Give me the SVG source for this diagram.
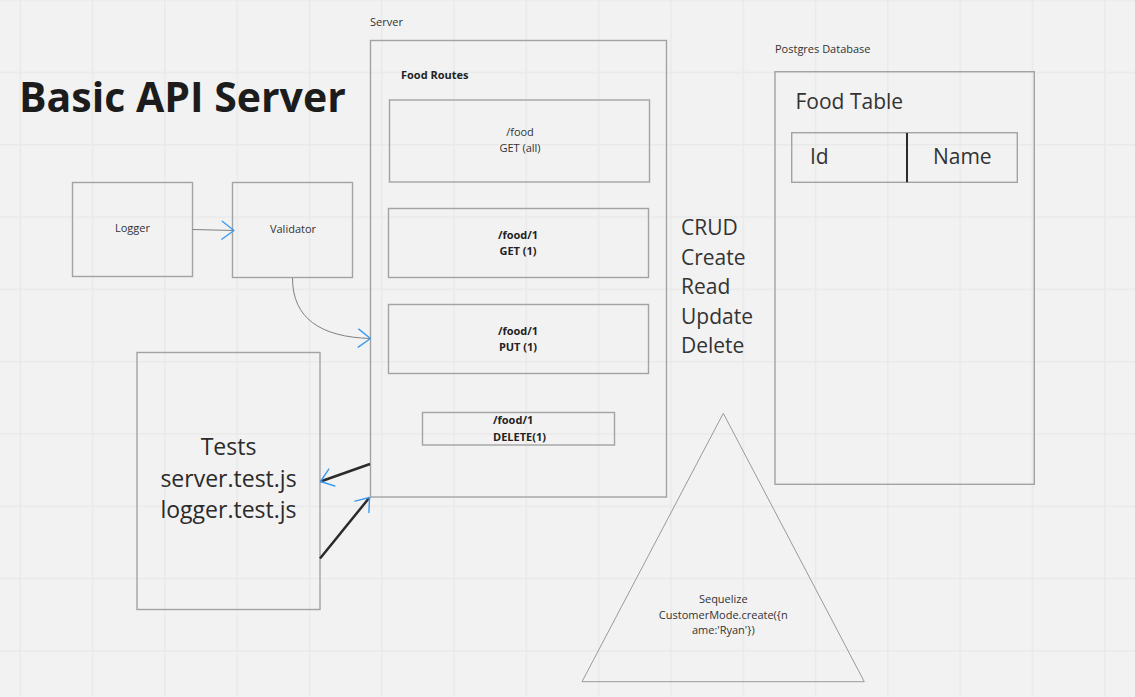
<svg xmlns="http://www.w3.org/2000/svg" width="1135" height="697" viewBox="0 0 1135 697">
<defs>
<pattern id="grid" patternUnits="userSpaceOnUse" x="19.5" y="-0.6" width="72.3" height="72.3">
<rect x="0" y="0" width="72.3" height="1.5" fill="#e9e9e9"/>
<rect x="0" y="0" width="1.5" height="72.3" fill="#e9e9e9"/>
</pattern>
<marker id="chev" viewBox="0 0 20 20" refX="18" refY="10" markerWidth="20" markerHeight="20" markerUnits="userSpaceOnUse" orient="auto">
<path d="M6,1 L18,10 L6,19" fill="none" stroke="#3a9bf0" stroke-width="1.4" stroke-linecap="round" stroke-linejoin="round"/>
</marker>
</defs>
<style>
.box{fill:none;stroke:#a3a3a3;stroke-width:1.4}
.sm{font-family:"Open Sans","Liberation Sans",sans-serif;font-size:11px;fill:#333}
.smb{font-family:"Open Sans","Liberation Sans",sans-serif;font-size:11px;font-weight:bold;fill:#222}
.big{font-family:"Open Sans","Liberation Sans",sans-serif;font-size:21px;fill:#333}
.mid{text-anchor:middle}
.thin{fill:none;stroke:#808080;stroke-width:1}
.thick{fill:none;stroke:#2b2b2b;stroke-width:2.5}
</style>
<rect width="1135" height="697" fill="#f2f2f2"/>
<rect width="1135" height="697" fill="url(#grid)"/>

<text id="title" x="19" y="112" font-family="Open Sans, Liberation Sans, sans-serif" font-size="41" font-weight="bold" fill="#1c1c1c">Basic API Server</text>

<g id="server">
<text class="sm" x="370" y="26">Server</text>
<rect class="box" x="370.5" y="40.5" width="296" height="456.5"/>
<text class="smb" x="401" y="79">Food Routes</text>
</g>
<g id="route-get-all">
<rect class="box" x="389.5" y="100" width="260" height="82"/>
<text class="sm mid" x="520" y="136">/food</text>
<text class="sm mid" x="520" y="152">GET (all)</text>
</g>
<g id="route-get-one">
<rect class="box" x="388.5" y="208.5" width="260" height="69"/>
<text class="smb mid" x="518" y="239">/food/1</text>
<text class="smb mid" x="518" y="255">GET (1)</text>
</g>
<g id="route-put">
<rect class="box" x="388.5" y="304.5" width="260" height="69"/>
<text class="smb mid" x="518" y="335">/food/1</text>
<text class="smb mid" x="518" y="351">PUT (1)</text>
</g>
<g id="route-delete">
<rect class="box" x="422.5" y="412.5" width="192" height="32.5"/>
<text class="smb" x="493" y="424">/food/1</text>
<text class="smb" x="493" y="441">DELETE(1)</text>
</g>

<g id="logger">
<rect class="box" x="72.5" y="182.5" width="120" height="94"/>
<text class="sm mid" x="132.5" y="232">Logger</text>
</g>
<g id="validator">
<rect class="box" x="232.5" y="182.5" width="120" height="95"/>
<text class="sm mid" x="293" y="233">Validator</text>
</g>

<g id="tests">
<rect class="box" x="137" y="352.5" width="183" height="257"/>
<text font-family="Open Sans, Liberation Sans, sans-serif" font-size="23" fill="#2b2b2b" text-anchor="middle" x="228.5" y="455">Tests</text>
<text font-family="Open Sans, Liberation Sans, sans-serif" font-size="23" fill="#2b2b2b" text-anchor="middle" x="228.5" y="487">server.test.js</text>
<text font-family="Open Sans, Liberation Sans, sans-serif" font-size="23" fill="#2b2b2b" text-anchor="middle" x="228.5" y="518">logger.test.js</text>
</g>

<g id="crud">
<text class="big" x="681" y="235">CRUD</text>
<text class="big" x="681" y="264.5">Create</text>
<text class="big" x="681" y="294">Read</text>
<text class="big" x="681" y="323.5">Update</text>
<text class="big" x="681" y="353">Delete</text>
</g>

<g id="sequelize">
<polygon points="723.3,413.3 864.3,681.7 582,681.7" fill="none" stroke="#9a9a9a" stroke-width="1"/>
<text class="sm mid" x="723.3" y="603">Sequelize</text>
<text class="sm mid" x="723.3" y="619">CustomerMode.create({n</text>
<text class="sm mid" x="723.3" y="634">ame:'Ryan'})</text>
</g>

<g id="postgres">
<text class="sm" x="775" y="53">Postgres Database</text>
<rect class="box" x="775" y="71.7" width="259.3" height="412.6"/>
<text class="big" x="795.5" y="108.5">Food Table</text>
</g>
<g id="food-table">
<rect class="box" x="791.7" y="132.7" width="225.6" height="49.6"/>
<line x1="907" y1="133" x2="907" y2="182.3" stroke="#2b2b2b" stroke-width="2"/>
<text class="big" x="810" y="164">Id</text>
<text class="big mid" x="962.3" y="164">Name</text>
</g>

<g id="connectors">
<path class="thin" d="M192.5,229.5 L234,230.5" marker-end="url(#chev)"/>
<path class="thin" d="M292.5,278 C292.5,318 320,337 370.5,338.5" marker-end="url(#chev)"/>
<path class="thick" d="M370,464 L320.5,481.5" marker-end="url(#chev)"/>
<path class="thick" d="M320,558.5 L369.5,497.5" marker-end="url(#chev)"/>
</g>
</svg>
